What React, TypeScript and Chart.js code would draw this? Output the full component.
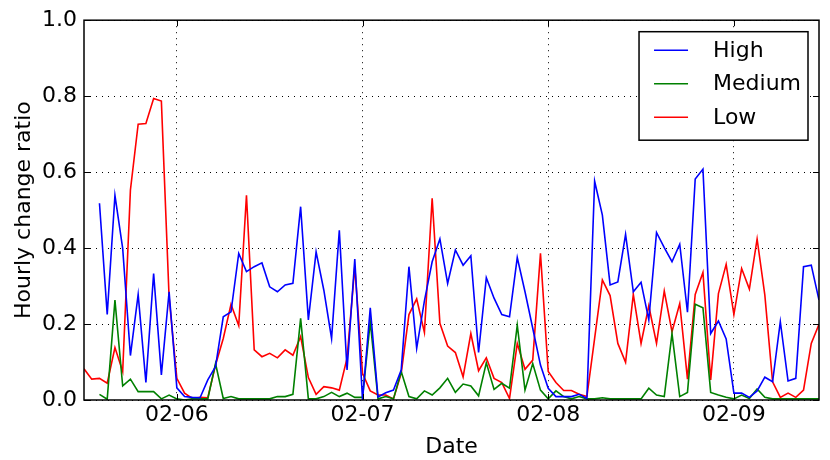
import React, { useEffect, useRef } from "react";
import { Chart, registerables } from "chart.js";

Chart.register(...registerables);

// Hourly samples, first sample is 02-05 12:00
const hours: number[] = Array.from({ length: 96 }, (_, i) => i);
const dayTickHours = [12, 36, 60, 84];
const dayLabels = ["02-06", "02-07", "02-08", "02-09"];
const yTickValues = [0, 0.2, 0.4, 0.6, 0.8, 1.0];

const seriesNames = ["High", "Medium", "Low"];
const seriesColors = ["#0000ff", "#008000", "#ff0000"];

const high: (number | null)[] = [
  null, null, 0.518, 0.225, 0.539, 0.399, 0.117, 0.278, 0.046, 0.333, 0.066, 0.285,
  0.032, 0.009, 0.007, 0.006, 0.053, 0.088, 0.219, 0.232, 0.386, 0.338, 0.351, 0.361,
  0.298, 0.285, 0.303, 0.307, 0.509, 0.211, 0.390, 0.289, 0.162, 0.447, 0.079, 0.371,
  0.0, 0.243, 0.008, 0.019, 0.026, 0.079, 0.351, 0.136, 0.261, 0.364, 0.424, 0.307,
  0.395, 0.355, 0.380, 0.125, 0.322, 0.268, 0.225, 0.219, 0.375, 0.285, 0.189, 0.092,
  0.031, 0.009, 0.009, 0.009, 0.015, 0.004, 0.576, 0.487, 0.303, 0.311, 0.436, 0.285,
  0.310, 0.211, 0.441, 0.401, 0.364, 0.410, 0.231, 0.582, 0.608, 0.175, 0.208, 0.161,
  0.018, 0.018, 0.007, 0.024, 0.060, 0.048, 0.206, 0.050, 0.057, 0.351, 0.355, 0.263,
];

const medium: (number | null)[] = [
  null, null, 0.015, 0.002, 0.263, 0.037, 0.055, 0.022, 0.022, 0.022, 0.003, 0.013,
  0.003, 0.0, 0.003, 0.003, 0.003, 0.096, 0.004, 0.009, 0.003, 0.003, 0.003, 0.003,
  0.003, 0.009, 0.009, 0.015, 0.215, 0.003, 0.003, 0.009, 0.020, 0.009, 0.018, 0.007,
  0.007, 0.206, 0.003, 0.009, 0.003, 0.075, 0.009, 0.003, 0.024, 0.013, 0.032, 0.057,
  0.020, 0.042, 0.037, 0.011, 0.098, 0.028, 0.044, 0.031, 0.197, 0.026, 0.096, 0.026,
  0.003, 0.024, 0.009, 0.003, 0.009, 0.003, 0.003, 0.006, 0.003, 0.003, 0.003, 0.003,
  0.003, 0.031, 0.013, 0.009, 0.175, 0.009, 0.020, 0.252, 0.243, 0.020, 0.013, 0.007,
  0.003, 0.013, 0.004, 0.029, 0.007, 0.003, 0.003, 0.003, 0.003, 0.003, 0.003, 0.003,
];

const low: (number | null)[] = [
  0.082, 0.055, 0.057, 0.044, 0.138, 0.075, 0.553, 0.726, 0.728, 0.794, 0.787, 0.27,
  0.057, 0.018, 0.004, 0.007, 0.006, 0.092, 0.162, 0.252, 0.196, 0.539, 0.132, 0.114,
  0.123, 0.111, 0.132, 0.118, 0.167, 0.059, 0.015, 0.035, 0.032, 0.026, 0.110, 0.351,
  0.070, 0.024, 0.013, 0.013, 0.003, 0.070, 0.225, 0.266, 0.178, 0.531, 0.202, 0.142,
  0.125, 0.061, 0.175, 0.077, 0.111, 0.057, 0.046, 0.004, 0.149, 0.081, 0.105, 0.386,
  0.075, 0.046, 0.025, 0.025, 0.015, 0.009, 0.162, 0.316, 0.275, 0.149, 0.099, 0.278,
  0.149, 0.248, 0.149, 0.287, 0.180, 0.254, 0.055, 0.278, 0.336, 0.053, 0.28, 0.357,
  0.225, 0.346, 0.292, 0.424, 0.276, 0.048, 0.007, 0.018, 0.007, 0.026, 0.149, 0.199,
];

const FONT = "DejaVu Sans";
const FONT_SIZE = 22;

const framePlugin = {
  id: "frame",
  afterDatasetsDraw(chart: any) {
    const { ctx, chartArea: a, scales } = chart;
    ctx.save();
    ctx.strokeStyle = "#000";
    ctx.lineWidth = 1;
    const tl = 6;
    ctx.beginPath();
    for (const v of dayTickHours) {
      const px = Math.round(scales.x.getPixelForValue(v)) + 0.5;
      ctx.moveTo(px, a.bottom);
      ctx.lineTo(px, a.bottom - tl);
      ctx.moveTo(px, a.top);
      ctx.lineTo(px, a.top + tl);
    }
    for (const v of yTickValues) {
      const py = Math.round(scales.y.getPixelForValue(v)) + 0.5;
      ctx.moveTo(a.left, py);
      ctx.lineTo(a.left + tl, py);
      ctx.moveTo(a.right, py);
      ctx.lineTo(a.right - tl, py);
    }
    ctx.stroke();
    ctx.lineWidth = 1.5;
    ctx.strokeRect(a.left, a.top, a.right - a.left, a.bottom - a.top);
    ctx.restore();
  },
};

const legendPlugin = {
  id: "mplLegend",
  afterDraw(chart: any) {
    const { ctx, chartArea: a } = chart;
    ctx.save();
    ctx.font = `${FONT_SIZE}px "${FONT}"`;
    const maxW = Math.max(...seriesNames.map((n) => ctx.measureText(n).width));
    const padL = 15, handle = 34, gap = 25, padR = 7;
    const w = padL + handle + gap + maxW + padR;
    const rowH = 33.5;
    const h = rowH * seriesNames.length + 8;
    const right = a.right - 11;
    const left = right - w;
    const top = a.top + 11.5;
    ctx.fillStyle = "#fff";
    ctx.fillRect(left, top, w, h);
    ctx.strokeStyle = "#000";
    ctx.lineWidth = 1.5;
    ctx.strokeRect(left, top, w, h);
    seriesNames.forEach((name, i) => {
      const y = top + 18.5 + i * rowH;
      ctx.strokeStyle = seriesColors[i];
      ctx.lineWidth = 1.5;
      ctx.beginPath();
      ctx.moveTo(left + padL, y);
      ctx.lineTo(left + padL + handle, y);
      ctx.stroke();
      ctx.fillStyle = "#000";
      ctx.textBaseline = "middle";
      ctx.textAlign = "left";
      ctx.fillText(name, left + padL + handle + gap, y + 1);
    });
    ctx.restore();
  },
};

export default function App() {
  const canvasRef = useRef<HTMLCanvasElement | null>(null);

  useEffect(() => {
    const canvas = canvasRef.current;
    if (!canvas) return;
    const seriesData = [high, medium, low];
    const tickFont = { family: FONT, size: FONT_SIZE };
    const chart = new Chart(canvas, {
      type: "line",
      data: {
        datasets: seriesData.map((arr, k) => ({
          label: seriesNames[k],
          data: hours.map((hr, i) => ({ x: hr, y: arr[i] })),
          borderColor: seriesColors[k],
          backgroundColor: seriesColors[k],
          borderWidth: 1.6,
          pointRadius: 0,
          fill: false,
          tension: 0,
          spanGaps: false,
        })),
      },
      options: {
        responsive: false,
        animation: false,
        devicePixelRatio: 1,
        layout: { padding: { left: 0, right: 11, top: 20, bottom: 0 } },
        plugins: { legend: { display: false }, tooltip: { enabled: false } },
        scales: {
          x: {
            type: "linear",
            min: hours[0],
            max: hours[hours.length - 1],
            afterBuildTicks: (s: any) => {
              s.ticks = dayTickHours.map((v) => ({ value: v }));
            },
            afterFit: (s: any) => {
              s.height = 60;
            },
            ticks: {
              callback: (v: any) => {
                const idx = dayTickHours.indexOf(Number(v));
                return idx >= 0 ? dayLabels[idx] : "";
              },
              font: tickFont,
              color: "#000",
              maxRotation: 0,
              autoSkip: false,
              padding: 2,
            },
            grid: { color: "#000", lineWidth: 1, drawTicks: false },
            border: { display: false, dash: [1, 5] },
            title: {
              display: true,
              text: "Date",
              font: tickFont,
              color: "#000",
              padding: { top: 0, bottom: 0 },
            },
          },
          y: {
            type: "linear",
            min: 0,
            max: 1,
            afterBuildTicks: (s: any) => {
              s.ticks = yTickValues.map((v) => ({ value: v }));
            },
            afterFit: (s: any) => {
              s.width = 84;
            },
            ticks: {
              callback: (v: any) => Number(v).toFixed(1),
              font: tickFont,
              color: "#000",
              padding: 7,
            },
            grid: { color: "#000", lineWidth: 1, drawTicks: false },
            border: { display: false, dash: [1, 5] },
            title: {
              display: true,
              text: "Hourly change ratio",
              font: tickFont,
              color: "#000",
              padding: { top: 11, bottom: 0 },
            },
          },
        },
      },
      plugins: [framePlugin, legendPlugin],
    } as any);
    return () => chart.destroy();
  }, []);

  return (
    <div style={{ position: "absolute", left: 0, top: 0, width: 830, height: 460, background: "#fff" }}>
      <canvas ref={canvasRef} width={830} height={460} />
    </div>
  );
}
